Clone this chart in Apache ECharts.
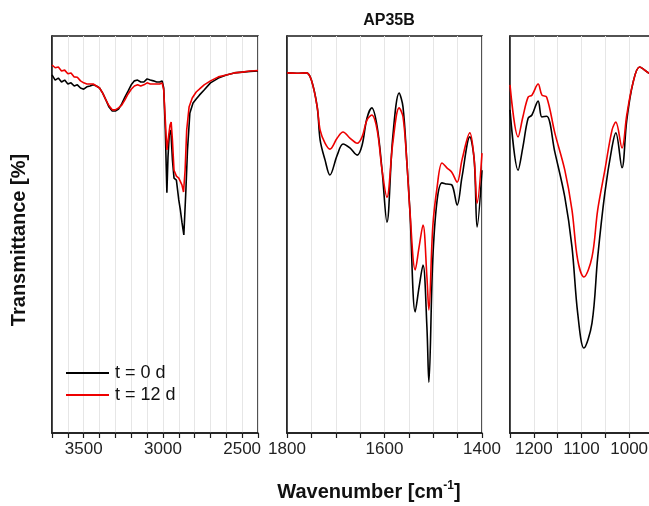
<!DOCTYPE html>
<html>
<head>
<meta charset="utf-8">
<script src="https://cdn.jsdelivr.net/npm/echarts@6/dist/echarts.min.js"></script>
<style>html,body{margin:0;padding:0;background:#fff;overflow:hidden}#c{width:649px;height:506px}</style>
</head>
<body>
<div id="c"></div>
<script>
// Panel 1 (3700-2400 cm-1)
const w1 = [3700,3680,3660,3640,3620,3600,3580,3560,3540,3520,3500,3480,3460,3440,3420,3400,3380,3360,3340,3320,3300,3280,3260,3240,3220,3200,3180,3160,3140,3120,3100,3080,3060,3040,3020,3005,2995,2985,2975,2968,2960,2950,2940,2930,2915,2900,2890,2880,2868,2855,2845,2830,2810,2790,2770,2740,2700,2650,2600,2550,2500,2450,2400];
const b1 = [90.2,88.9,89.4,88.4,88.9,87.9,88.2,87.4,87.7,86.9,86.6,87.2,87.4,87.7,87.4,86.9,85.6,83.9,82.1,81.1,81.1,81.6,82.9,84.6,86.1,87.7,88.7,88.9,88.4,88.4,89.2,88.9,88.7,88.4,88.4,88.7,86.9,76.3,60.5,69.5,75.1,76.3,68.8,64.2,63.7,58.7,56.2,53.1,49.9,61.2,71.3,80.6,83.1,84.1,85.1,86.4,88.2,89.4,90.2,90.7,90.9,91.1,91.2];
const wr1 = [3700,3680,3660,3640,3620,3600,3580,3560,3540,3520,3500,3480,3460,3440,3420,3400,3380,3360,3340,3320,3300,3280,3260,3240,3220,3200,3180,3160,3140,3120,3100,3080,3060,3040,3020,3005,2995,2985,2975,2965,2955,2948,2940,2930,2915,2900,2890,2880,2870,2860,2850,2835,2815,2790,2770,2740,2700,2650,2600,2550,2500,2450,2400];
const r1 = [92.7,92.0,92.2,91.2,91.4,90.5,90.7,89.7,89.6,88.7,88.2,87.9,87.9,87.9,87.4,86.9,85.6,83.9,82.4,81.4,81.4,81.9,82.6,83.9,85.4,86.6,87.4,87.7,87.4,87.7,88.2,87.9,87.9,87.9,87.9,88.2,86.4,78.8,71.3,70.8,77.6,78.3,73.8,66.2,64.7,64.2,63.7,62.5,60.7,66.2,76.3,82.1,84.4,85.9,86.6,87.7,88.7,89.7,90.2,90.7,90.9,91.2,91.3];

// Panel 2 (1800-1400 cm-1)
const w2 = [1800,1780,1760,1750,1738,1732,1722,1712,1697,1685,1671,1656,1646,1636,1626,1615,1605,1595,1583,1570,1562,1554,1548,1537,1529,1521,1513,1509,1501,1492,1482,1472,1462,1451,1441,1425,1416,1410,1400];
const b2 = [90.7,90.6,90.7,88.9,82.1,73.8,68.8,65.0,70.0,72.8,71.8,70.0,72.5,79.3,81.9,77.1,66.2,53.1,74.6,85.6,82.1,68.0,56.2,30.5,36.8,42.3,26.7,12.8,43.6,58.7,63.0,62.7,62.5,57.4,64.5,74.6,68.8,51.9,66.2];
const r2 = [90.7,90.6,90.7,88.9,82.1,76.3,73.0,71.5,74.3,75.8,74.3,73.0,74.6,78.8,80.1,76.3,66.2,59.4,73.0,81.9,79.6,68.0,56.2,41.1,46.9,52.4,39.3,31.0,51.9,62.0,68.0,66.8,65.7,63.2,68.8,75.6,68.8,57.9,70.5];

// Panel 3 (1250-950 cm-1)
const w3 = [1250,1233,1223,1212,1204,1191,1183,1173,1156,1135,1120,1108,1095,1078,1066,1051,1036,1028,1015,1005,992,978,959,950];
const b3 = [81.4,66.2,72.0,79.3,80.1,83.6,79.6,79.8,70.8,59.4,46.9,30.2,21.4,27.7,44.3,60.5,72.0,75.6,66.8,78.8,88.2,92.2,90.7,90.5];
const r3 = [87.7,74.6,79.6,84.6,85.1,87.9,85.1,84.6,75.6,66.2,56.2,43.6,39.3,44.3,56.2,66.2,76.3,78.3,71.8,80.1,88.2,92.2,90.7,90.5];

const panelRanges = [[2400,3700,100,500],[1400,1800,50,200],[950,1250,50,100]];
const seriesNames = ['t = 0 d','t = 12 d'];
const titleText = 'AP35B';
const xTitle = 'Wavenumber [cm';
const yTitle = 'Transmittance [%]';

const zip = (a,b)=>a.map((x,i)=>[x,b[i]]);

const grids = [
  {left:52, top:36, width:206, height:397},
  {left:287, top:36, width:195, height:397},
  {left:510, top:36, width:143, height:397}
].map(g=>Object.assign(g,{show:true,borderColor:'#1a1a1a',borderWidth:1.5,containLabel:false,outerBoundsMode:'none'}));

const labelFmt = (i)=> (v)=>{
  const r = panelRanges[i];
  if (v % r[3] !== 0) return '';
  if (i===2 && v===1250) return '';
  if (i===0 && (v===r[0]||v===r[1])) return '';
  return String(v);
};

const xAxes = panelRanges.map((r,i)=>({
  type:'value', gridIndex:i, inverse:true, min:r[0], max:r[1], interval:r[2],
  axisLine:{show:true,lineStyle:{color:'#1a1a1a',width:1.5}},
  axisTick:{show:true,length:5,lineStyle:{color:'#1a1a1a',width:1.2}},
  axisLabel:{fontSize:17,color:'#222',fontFamily:'Liberation Sans, Arial',margin:8,
    formatter:labelFmt(i), showMinLabel:true, showMaxLabel:true, hideOverlap:false},
  splitLine:{show:true,lineStyle:{color:'#e6e6e6',width:1}}
}));

const yAxes = [0,1,2].map(i=>({
  type:'value', gridIndex:i, min:0, max:100,
  axisLine:{show:true,lineStyle:{color:'#1a1a1a',width:1.5}},
  axisTick:{show:false}, axisLabel:{show:false}, splitLine:{show:false}
}));

const mk = (name,data,i,color,smooth)=>({
  name, type:'line', xAxisIndex:i, yAxisIndex:i, data, showSymbol:false, symbol:'none',
  smooth, lineStyle:{color,width:1.6}, itemStyle:{color}, animation:false, clip:true
});

const series = [
  mk(seriesNames[0],zip(w1,b1),0,'#000',false),
  mk(seriesNames[1],zip(wr1,r1),0,'#ee0000',false),
  mk(seriesNames[0],zip(w2,b2),1,'#000',0.35),
  mk(seriesNames[1],zip(w2,r2),1,'#ee0000',0.35),
  mk(seriesNames[0],zip(w3,b3),2,'#000',0.35),
  mk(seriesNames[1],zip(w3,r3),2,'#ee0000',0.35)
];

const chart = echarts.init(document.getElementById('c'),null,{renderer:'canvas'});
chart.setOption({
  animation:false,
  backgroundColor:'#fff',
  title:{text:titleText,left:384,top:8,textAlign:'center',textStyle:{fontSize:16,fontWeight:'bold',color:'#111',fontFamily:'Liberation Sans, Arial'}},
  legend:{orient:'vertical',left:66,top:364,padding:0,itemWidth:43,itemHeight:2,itemGap:4,icon:'rect',
    data:[{name:seriesNames[0],itemStyle:{color:'#000'}},{name:seriesNames[1],itemStyle:{color:'#ee0000'}}],
    textStyle:{fontSize:18,color:'#111',fontFamily:'Liberation Sans, Arial',padding:[0,0,0,1]},selectedMode:false},
  grid:grids, xAxis:xAxes, yAxis:yAxes, series,
  graphic:[
    {type:'text',style:{
      text:'{a|'+xTitle+'}{s|-1}{a|]}',x:369,y:492,align:'center',verticalAlign:'middle',
      rich:{a:{fontSize:20,fontWeight:'bold',fill:'#111',fontFamily:'Liberation Sans, Arial'},
            s:{fontSize:12,fontWeight:'bold',fill:'#111',verticalAlign:'top',padding:[0,0,12,0],fontFamily:'Liberation Sans, Arial'}}}},
    {type:'text',x:19,y:240,rotation:Math.PI/2,style:{text:yTitle,align:'center',verticalAlign:'middle',
      font:'bold 20px "Liberation Sans", Arial',fill:'#111'}}
  ]
});
</script>
</body>
</html>
